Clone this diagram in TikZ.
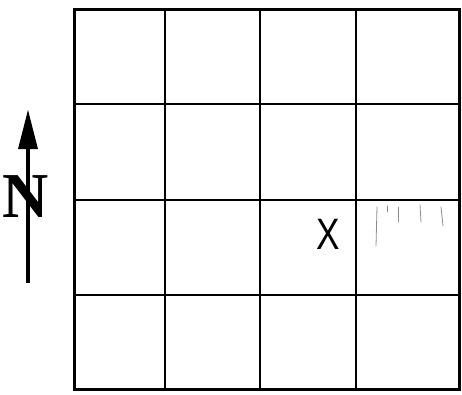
\documentclass[tikz,border=0pt]{standalone}
\usepackage{fontspec}
\newfontfamily\serifb{Liberation Serif}
\newfontfamily\sansf{Liberation Sans}
\begin{document}
\begin{tikzpicture}[x=1pt,y=-1pt,
  inner/.style={line width=2pt,black},
  outer/.style={line width=3pt,black},
  faint/.style={line width=0.8pt,black!45,line cap=round}]
\useasboundingbox (0,0) rectangle (462,394);
% inner grid lines
\foreach \x in {165,260,356} \draw[inner] (\x,9) -- (\x,389);
\foreach \y in {104,200,295} \draw[inner] (74,\y) -- (459,\y);
% outer border
\draw[outer] (74,9) rectangle (459,389);
% north arrow
\coordinate (tip) at (28,110);
\coordinate (bl) at (18,149);
\coordinate (br) at (38,149);
\coordinate (bot) at (28,283);
\coordinate (base) at (28,147);
\draw[line width=3.5pt] (base) -- (bot);
\fill (tip) -- (br) -- (bl) -- cycle;
\node[inner sep=0pt] (N) at (26,197) {\fontsize{64}{64}\serifb\bfseries N};
% X mark
\node[inner sep=0pt,xscale=0.8] (X) at (328,234) {\fontsize{44}{44}\sansf X};
% faint marks
\draw[faint] (377,207) -- (376,246);
\draw[faint] (387,206) -- (387,212);
\draw[faint] (398,207) -- (398,222);
\draw[faint] (420,205) -- (421,222);
\draw[faint] (441,207) -- (443,226);
\end{tikzpicture}
\end{document}
